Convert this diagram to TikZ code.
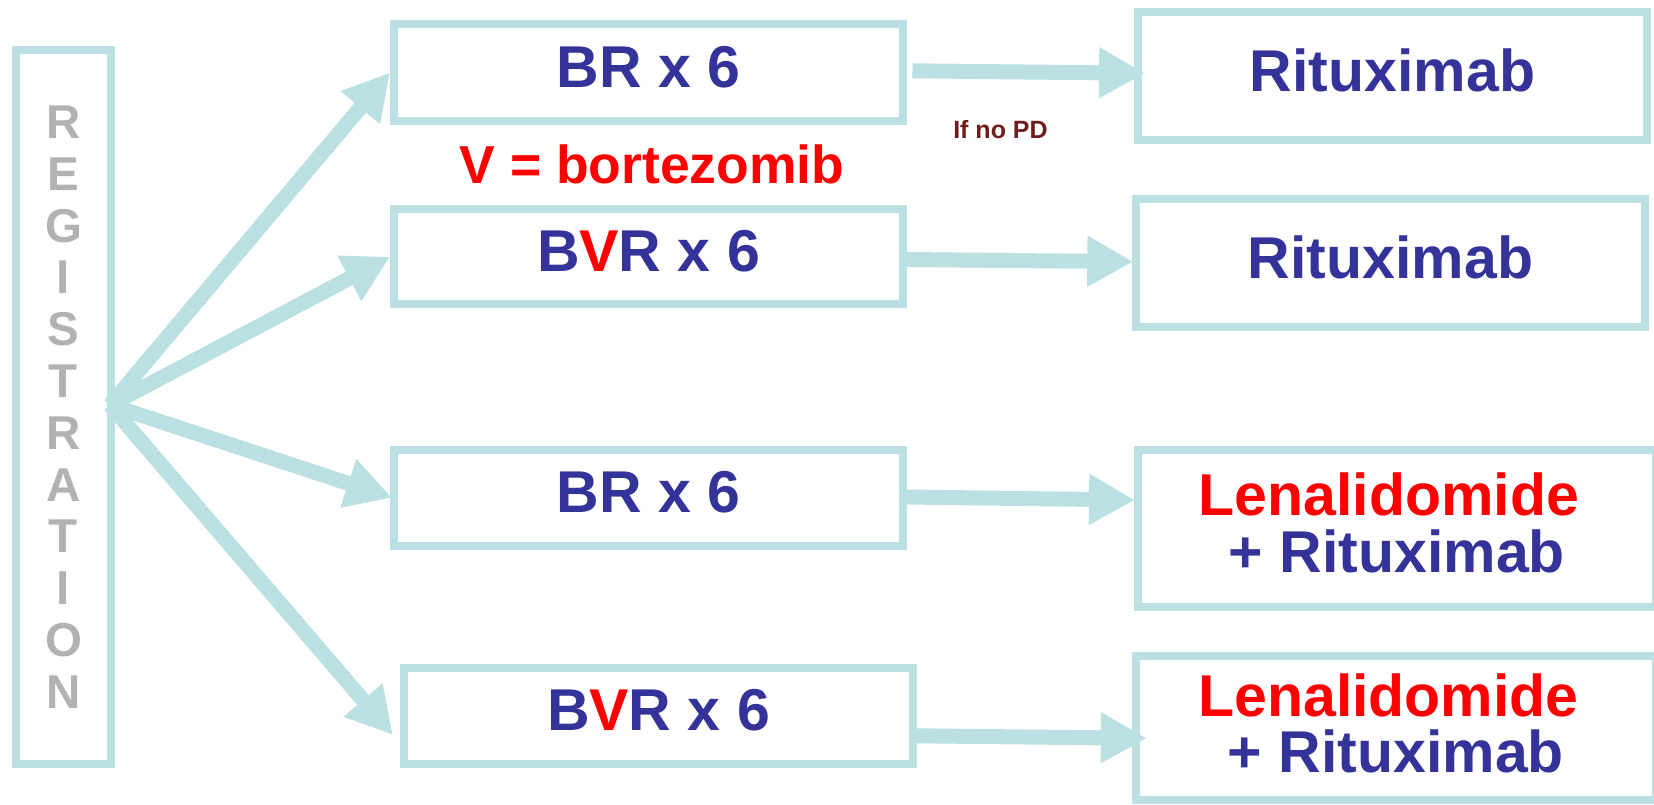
\documentclass[tikz,border=0pt]{standalone}
\usepackage{fontspec}
\setmainfont{Liberation Sans}
\usetikzlibrary{arrows.meta,calc}
\definecolor{tealline}{RGB}{187,224,227}
\definecolor{ink}{RGB}{51,51,153}
\definecolor{regc}{RGB}{178,178,178}
\definecolor{pdc}{RGB}{110,28,28}
\begin{document}
\begin{tikzpicture}[x=1pt,y=-1pt,
  box/.style={draw=tealline, line width=8pt, inner sep=0pt, text=ink, align=center,
              font={\fontsize{59}{56.7}\selectfont\bfseries}},
  onel/.style={text depth=12pt},
  arr/.style={draw=tealline, line width=15pt, -{Triangle[length=46pt,width=48pt]}},
  lbl/.style={anchor=base, inner sep=0pt}]
\useasboundingbox (0,0) rectangle (1654,804);

\node[box, minimum width=95pt, minimum height=714pt, text=regc,
      font={\fontsize{47.5}{51.8}\selectfont\bfseries}] (reg) at (63.5,407)
      {R\\E\\G\\I\\S\\T\\R\\A\\T\\I\\O\\N};

\node[box,onel,minimum width=509pt,minimum height=96.6pt] (m1) at (648.5,72.5) {BR x 6};
\node[box,onel,minimum width=509pt,minimum height=95.3pt] (m2) at (648.5,256.8) {B\textcolor{red}{V}R x 6};
\node[box,onel,minimum width=509pt,minimum height=95.7pt] (m3) at (648.5,497.7) {BR x 6};
\node[box,onel,minimum width=509pt,minimum height=95.5pt] (m4) at (658.5,716) {B\textcolor{red}{V}R x 6};

\node[box,onel,minimum width=509pt,minimum height=128.5pt] (r1) at (1392.5,75.8) {Rituximab};
\node[box,onel,minimum width=509pt,minimum height=127.9pt] (r2) at (1390.5,262.8) {Rituximab};
\node[box,minimum width=518pt,minimum height=157.4pt] (r3) at (1397,528.5)
  {\hspace*{-16pt}\textcolor{red}{Lenalidomide}\\+ Rituximab\rule[-11.6pt]{0pt}{0pt}};
\node[box,minimum width=520pt,minimum height=144pt] (r4) at (1396,728)
  {\hspace*{-15pt}\textcolor{red}{Lenalidomide}\\+ Rituximab\rule[-10pt]{0pt}{0pt}};

\node[lbl, text=red, font={\fontsize{53.5}{53.5}\selectfont\bfseries}] (vb) at (652,183.3) {V = bortezomib};
\node[lbl, text=pdc, font={\fontsize{25}{25}\selectfont\bfseries}] (nopd) at (1000.5,138.3) {If no PD};

\coordinate (fan) at (110,405);
\draw[arr] (fan) -- (m1.west);
\draw[arr] (fan) -- (m2.west);
\draw[arr] (fan) -- ($(m3.west)+(2,0)$);
\draw[arr] (fan) -- ($(m4.west)+(-7,19)$);

\draw[arr] ($(m1.east)+(5.5,-1.7)$) -- ($(r1.west)+(11,-2.5)$);
\draw[arr] ($(m2.east)+(0,2.7)$) -- ($(r2.west)+(1.3,-1.1)$);
\draw[arr] ($(m3.east)+(0,-0.7)$) -- ($(r3.west)+(1,-28.5)$);
\draw[arr] ($(m4.east)+(0,19.8)$) -- ($(r4.west)+(14.7,10.3)$);
\end{tikzpicture}
\end{document}
